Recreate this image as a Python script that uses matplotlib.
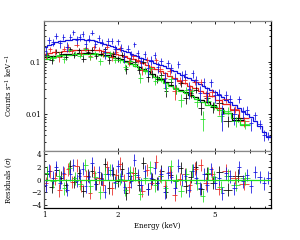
import numpy as np
import matplotlib
matplotlib.use("Agg")
import matplotlib.pyplot as plt

# energy bin edges (keV), model (counts s^-1 keV^-1), fractional 1-sigma errors,
# residuals in sigma
black_edges = [1.00, 1.05, 1.10, 1.15, 1.20, 1.25, 1.30, 1.36, 1.42, 1.48, 1.54, 1.60, 1.67, 1.74,
               1.81, 1.88, 1.96, 2.04, 2.12, 2.21, 2.30, 2.40, 2.50, 2.61, 2.72, 2.84, 2.96, 3.09,
               3.23, 3.38, 3.54, 3.71, 3.89, 4.08, 4.29, 4.52, 4.77, 5.05, 5.40, 5.90, 6.60]
black_model = [0.121, 0.126, 0.130, 0.134, 0.137, 0.140, 0.142, 0.144, 0.145, 0.145,
               0.144, 0.142, 0.139, 0.135, 0.131, 0.125, 0.118, 0.111, 0.103, 0.095,
               0.088, 0.080, 0.072, 0.065, 0.058, 0.052, 0.046, 0.041, 0.036, 0.032,
               0.029, 0.026, 0.023, 0.021, 0.019, 0.017, 0.0152, 0.013, 0.0105, 0.0076]
black_frac = [0.14, 0.13, 0.13, 0.13, 0.12, 0.12, 0.12, 0.12, 0.12, 0.12,
              0.12, 0.12, 0.12, 0.12, 0.13, 0.13, 0.13, 0.13, 0.14, 0.14,
              0.14, 0.15, 0.15, 0.15, 0.16, 0.16, 0.17, 0.17, 0.18, 0.18,
              0.18, 0.19, 0.19, 0.20, 0.20, 0.21, 0.21, 0.20, 0.18, 0.21]
black_res = [0.8, -1.2, 1.5, 0.3, -0.9, 2.1, -0.4, 1.1, -1.8, 0.6,
             1.4, -0.7, 0.2, 2.4, -1.3, 0.9, -0.2, 1.7, -2.2, 0.5,
             1.0, -0.8, 2.6, -1.5, 0.1, -0.6, 1.3, -1.9, 0.7, -0.3,
             1.8, -1.1, 0.4, 2.0, -1.5, 0.9, -0.5, 1.2, -1.6, 0.6]

red_edges = [1.00, 1.04, 1.08, 1.13, 1.18, 1.23, 1.28, 1.33, 1.39, 1.45, 1.51, 1.57, 1.64, 1.71,
             1.78, 1.85, 1.93, 2.01, 2.09, 2.18, 2.27, 2.37, 2.47, 2.58, 2.69, 2.81, 2.93, 3.06,
             3.20, 3.35, 3.51, 3.68, 3.86, 4.05, 4.26, 4.49, 4.74, 5.02, 5.35, 5.80, 6.30, 6.90]
red_model = [0.140, 0.144, 0.149, 0.154, 0.158, 0.161, 0.164, 0.166, 0.167, 0.168,
             0.168, 0.166, 0.163, 0.159, 0.154, 0.148, 0.141, 0.134, 0.126, 0.118,
             0.110, 0.102, 0.094, 0.087, 0.080, 0.073, 0.066, 0.060, 0.054, 0.048,
             0.043, 0.039, 0.035, 0.031, 0.028, 0.025, 0.022, 0.019, 0.0155, 0.0118, 0.0085]
red_frac = [0.13, 0.14, 0.13, 0.13, 0.13, 0.12, 0.12, 0.12, 0.12, 0.12,
            0.12, 0.12, 0.12, 0.12, 0.13, 0.13, 0.13, 0.13, 0.13, 0.14,
            0.14, 0.15, 0.15, 0.15, 0.16, 0.16, 0.16, 0.17, 0.17, 0.18,
            0.18, 0.18, 0.19, 0.19, 0.20, 0.20, 0.20, 0.20, 0.19, 0.18, 0.20]
red_res = [-0.6, 1.3, 0.2, -1.7, 0.9, 1.6, -0.4, 2.2, -1.0, 0.5,
           -2.1, 1.1, 0.3, -0.8, 1.9, -1.4, 0.7, 2.5, -0.2, -1.2,
           1.0, 0.4, -1.8, 1.5, -0.5, 2.8, 0.6, -1.1, 1.2, -2.4,
           0.1, 0.8, -0.9, 1.7, 2.3, -0.6, 0.9, -1.5, 1.4, 0.3, -0.7]

green_edges = [1.00, 1.06, 1.12, 1.18, 1.24, 1.30, 1.37, 1.44, 1.51, 1.58, 1.66, 1.74, 1.82,
               1.91, 2.00, 2.10, 2.20, 2.31, 2.42, 2.54, 2.66, 2.79, 2.93, 3.07, 3.22, 3.38,
               3.55, 3.73, 3.92, 4.12, 4.34, 4.58, 4.84, 5.12, 5.45, 5.85, 6.35, 7.00]
green_model = [0.114, 0.121, 0.127, 0.132, 0.136, 0.139, 0.141, 0.141, 0.140, 0.138,
               0.134, 0.129, 0.123, 0.116, 0.108, 0.099, 0.090, 0.081, 0.073, 0.065,
               0.058, 0.051, 0.045, 0.040, 0.035, 0.031, 0.028, 0.025, 0.022, 0.0195,
               0.017, 0.015, 0.0135, 0.012, 0.0105, 0.0085, 0.0062]
green_frac = [0.13, 0.13, 0.12, 0.12, 0.12, 0.12, 0.11, 0.11, 0.11, 0.11,
              0.12, 0.12, 0.12, 0.13, 0.13, 0.13, 0.13, 0.14, 0.14, 0.15,
              0.15, 0.16, 0.16, 0.16, 0.17, 0.17, 0.18, 0.18, 0.19, 0.19,
              0.20, 0.20, 0.19, 0.18, 0.18, 0.18, 0.19]
green_res = [1.1, -0.3, 0.6, -1.4, 1.8, 0.2, -0.7, 2.3, -1.1, 0.4,
             -2.0, 0.9, 1.5, -0.5, 0.1, -1.6, 1.2, 0.7, -2.3, 0.3,
             1.9, -0.9, 0.5, -1.3, 2.1, -0.2, -1.8, 0.8, 1.4, -0.6,
             -2.6, 1.0, 0.4, -1.2, 0.6, -0.8, 0.2]

blue_edges = [1.00, 1.03, 1.07, 1.10, 1.14, 1.18, 1.22, 1.26, 1.30, 1.34, 1.38, 1.42, 1.46,
              1.50, 1.55, 1.60, 1.65, 1.70, 1.75, 1.80, 1.86, 1.92, 1.98, 2.04, 2.10, 2.17,
              2.24, 2.31, 2.38, 2.46, 2.54, 2.62, 2.70, 2.79, 2.88, 2.97, 3.07, 3.17, 3.27,
              3.38, 3.49, 3.61, 3.73, 3.86, 3.99, 4.13, 4.27, 4.42, 4.58, 4.74, 4.91, 5.09,
              5.28, 5.48, 5.69, 5.91, 6.14, 6.38, 6.63, 6.90, 7.18, 7.48, 7.80, 8.10, 8.50]
blue_model = [0.190, 0.205, 0.220, 0.232, 0.242, 0.250, 0.256, 0.261, 0.264, 0.266,
              0.266, 0.265, 0.262, 0.258, 0.252, 0.245, 0.237, 0.229, 0.220, 0.209,
              0.197, 0.186, 0.176, 0.168, 0.159, 0.150, 0.142, 0.134, 0.126, 0.119,
              0.113, 0.107, 0.101, 0.096, 0.091, 0.086, 0.081, 0.076, 0.070, 0.065,
              0.060, 0.056, 0.052, 0.048, 0.045, 0.041, 0.038, 0.035, 0.032, 0.029,
              0.026, 0.0235, 0.021, 0.019, 0.017, 0.015, 0.0133, 0.0117, 0.0102, 0.0088,
              0.0075, 0.0060, 0.0046, 0.0037]
blue_frac = [0.18, 0.18, 0.17, 0.17, 0.17, 0.16, 0.16, 0.16, 0.16, 0.16,
             0.16, 0.16, 0.16, 0.16, 0.16, 0.16, 0.17, 0.17, 0.17, 0.17,
             0.17, 0.17, 0.18, 0.18, 0.18, 0.18, 0.18, 0.19, 0.19, 0.19,
             0.19, 0.20, 0.20, 0.20, 0.20, 0.20, 0.21, 0.21, 0.21, 0.21,
             0.22, 0.22, 0.22, 0.22, 0.23, 0.23, 0.23, 0.23, 0.24, 0.24,
             0.24, 0.24, 0.24, 0.24, 0.24, 0.24, 0.23, 0.23, 0.23, 0.22,
             0.22, 0.21, 0.20, 0.19]
blue_res = [-0.9, 1.4, 0.3, 2.0, -0.5, 1.1, -1.6, 0.8, 2.3, -0.2,
            0.6, 1.7, -1.1, 0.4, 2.6, -0.7, 1.2, 0.1, -1.9, 0.9,
            1.5, -0.4, 2.1, 0.5, -1.2, 1.0, -0.3, 3.1, 0.7, -0.8,
            1.3, -1.5, 0.2, 1.8, -0.6, 0.9, -2.0, 1.1, 0.4, -1.3,
            2.2, -0.1, 0.6, -1.7, 1.4, 0.3, -1.4, 0.8, -0.9, 1.6,
            -0.5, 0.2, -2.2, 1.0, 0.5, -1.4, 1.9, -0.3, 0.7, -1.1,
            1.2, 0.4, -0.6, 0.3]

series = [
    ("black", black_edges, black_model, black_frac, black_res),
    ("#e8211d", red_edges, red_model, red_frac, red_res),
    ("#1fe01f", green_edges, green_model, green_frac, green_res),
    ("#1010e0", blue_edges, blue_model, blue_frac, blue_res),
]

plt.rcParams["font.family"] = "DejaVu Serif"
plt.rcParams["mathtext.fontset"] = "dejavuserif"
plt.rcParams["font.size"] = 5

fig = plt.figure(figsize=(3.0, 2.4), dpi=100)
ax = fig.add_axes([0.1467, 0.371, 0.7567, 0.543])
axr = fig.add_axes([0.1467, 0.1333, 0.7567, 0.2375], sharex=ax)

for col, edges, model, frac, res in series:
    edges = np.array(edges)
    lo, hi = edges[:-1], edges[1:]
    cen = np.sqrt(lo * hi)
    xerr = [cen - lo, hi - cen]
    model = np.array(model)
    err = model * np.array(frac)
    res = np.array(res)
    data = model + res * err
    ax.errorbar(cen, data, xerr=xerr, yerr=err, fmt="none", ecolor=col, elinewidth=0.7, alpha=0.8)
    ax.stairs(model, edges, color=col, lw=0.9, baseline=None)
    axr.errorbar(cen, res, xerr=xerr, yerr=np.ones_like(res), fmt="none",
                 ecolor=col, elinewidth=0.7, alpha=0.8)

axr.axhline(0, color="#1fe01f", lw=0.9)

ax.set_xscale("log")
ax.set_yscale("log")
ax.set_xlim(1.0, 8.5)
ax.set_ylim(0.002, 0.6)
axr.set_ylim(-4.5, 4.5)

ax.set_yticks([0.01, 0.1])
ax.set_yticklabels(["0.01", "0.1"])
axr.set_xticks([1, 2, 5])
axr.set_xticklabels(["1", "2", "5"])
axr.set_yticks([-4, -2, 0, 2, 4])
axr.set_yticks([-3, -1, 1, 3], minor=True)
axr.xaxis.set_minor_formatter(matplotlib.ticker.NullFormatter())
plt.setp(ax.get_xticklabels(), visible=False)

for a in (ax, axr):
    a.tick_params(which="both", direction="in", top=True, right=True, length=2.5,
                  width=0.6, pad=2, labelsize=5)
    a.tick_params(which="minor", length=1.5)
    a.spines["top"].set_color("#888888")
    a.spines["left"].set_color("#555555")
    a.spines["right"].set_color("black")
    for s in a.spines.values():
        s.set_linewidth(0.9)
ax.spines["bottom"].set_color("#888888")
axr.spines["bottom"].set_color("black")

ax.set_ylabel(r"Counts s$^{-1}$ keV$^{-1}$", fontsize=5)
axr.set_ylabel(r"Residuals ($\sigma$)", fontsize=5)
axr.set_xlabel("Energy (keV)", fontsize=5, labelpad=2)
ax.yaxis.set_label_coords(-0.13, 0.5)
axr.yaxis.set_label_coords(-0.13, 0.5)

fig.savefig("out.png", dpi=100)
